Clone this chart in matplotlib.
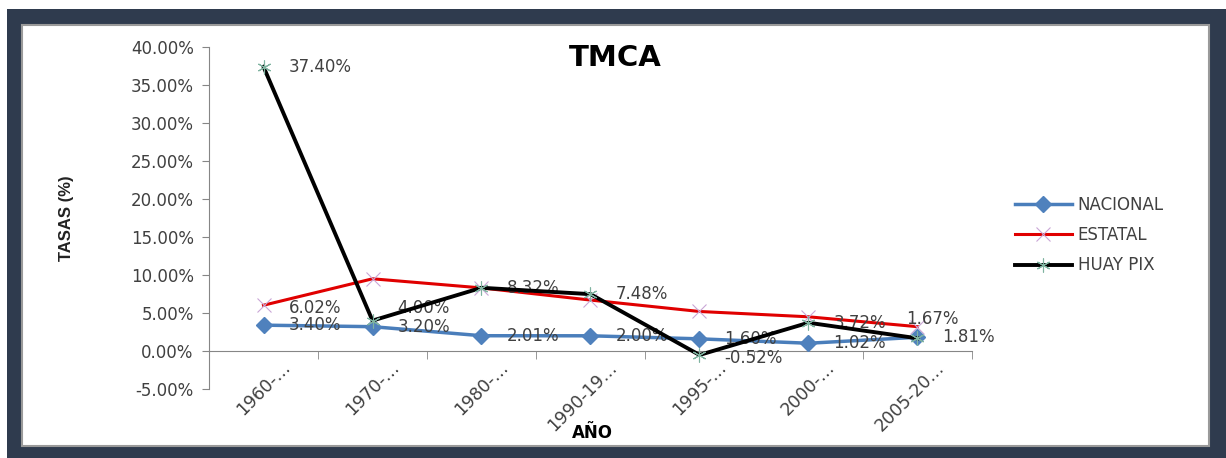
import matplotlib
matplotlib.use("Agg")
import matplotlib.pyplot as plt
from matplotlib.patches import Rectangle
from matplotlib.transforms import ScaledTranslation
from matplotlib.ticker import FuncFormatter, FixedLocator

plt.rcParams["font.family"] = ["DejaVu Sans"]

# datos de la gráfica
periodos = ["1960-…", "1970-…", "1980-…", "1990-19…", "1995-…", "2000-…", "2005-20…"]
nacional = [3.40, 3.20, 2.01, 2.00, 1.60, 1.02, 1.81]
estatal = [6.02, 9.50, 8.30, 6.70, 5.20, 4.50, 3.20]
huay_pix = [37.40, 4.00, 8.32, 7.48, -0.52, 3.72, 1.67]
y_ticks = [-5, 0, 5, 10, 15, 20, 25, 30, 35, 40]

W, H = 1226, 458
fig = plt.figure(figsize=(W / 100, H / 100), dpi=100)
fig.patch.set_facecolor("white")

# marco oscuro y fondo blanco interior
fig.patches.append(Rectangle((7 / W, 0), (W - 7) / W, (H - 9) / H, transform=fig.transFigure,
                             facecolor="#2f3b4e", edgecolor="none", zorder=-3))
fig.patches.append(Rectangle((22 / W, 12 / H), 1187 / W, 421 / H, transform=fig.transFigure,
                             facecolor="white", edgecolor="#9a9a9a", linewidth=1.5, zorder=-2))

ax = fig.add_axes([209 / W, 1 - 389 / H, 763 / W, 342 / H])
ax.set_facecolor("none")

x = list(range(len(periodos)))
ax.plot(x, nacional, color="#4a7ebb", linewidth=2.5, marker="D", markersize=8,
        markerfacecolor="#4f81bd", markeredgecolor="#4f81bd", label="NACIONAL", zorder=3)
ax.plot(x, estatal, color="#e00000", linewidth=2.2, marker="x", markersize=10,
        markeredgecolor="#c9a6d6", markeredgewidth=0.8, label="ESTATAL", zorder=2)
ax.plot(x, huay_pix, color="black", linewidth=2.8, marker=(6, 2, 0), markersize=10,
        markeredgecolor="#7fb3a0", markeredgewidth=0.8, label="HUAY PIX", zorder=4)

lbl_kw = dict(textcoords="offset points", ha="left", va="center", fontsize=12, color="#404040")
for i, v in enumerate(nacional):
    ax.annotate(f"{v:.2f}%", (i, v), xytext=(18, 0), **lbl_kw)
ax.annotate(f"{estatal[0]:.2f}%", (0, estatal[0]), xytext=(18, -2), **lbl_kw)
for i, v in enumerate(huay_pix):
    off = (18, 0)
    if i == len(huay_pix) - 1:
        off = (-8, 14)
    elif i == 4:
        off = (18, -2)
    elif i == 1:
        off = (18, 9)
    ax.annotate(f"{v:.2f}%", (i, v), xytext=off, **lbl_kw)

ax.set_xlim(-0.5, len(periodos) - 0.5)
ax.set_ylim(-5, 40)
ax.set_yticks(y_ticks)
ax.yaxis.set_major_formatter(FuncFormatter(lambda v, p: f"{v:.2f}%"))
ax.tick_params(axis="y", direction="out", length=5, color="#868686", labelsize=12,
               labelcolor="#404040", pad=6)

ax.set_xticks(x)
ax.set_xticklabels(periodos)
ax.xaxis.set_minor_locator(FixedLocator([i + 0.5 for i in x]))
ax.tick_params(axis="x", which="major", length=0, labelsize=12.5, labelcolor="#404040",
               pad=10, labelrotation=45)
ax.tick_params(axis="x", which="minor", direction="out", length=6, color="#868686")

for s in ["top", "right"]:
    ax.spines[s].set_visible(False)
ax.spines["bottom"].set_position(("data", 0))
ax.spines["bottom"].set_color("#868686")
ax.spines["left"].set_color("#868686")

fig.text(615 / W, 1 - 58 / H, "TMCA", fontsize=21, fontweight="bold", ha="center", va="center")
fig.text(67 / W, 1 - 218 / H, "TASAS (%)", fontsize=12, fontweight="bold", rotation=90,
         ha="center", va="center", family="Liberation Sans", color="#222222")
fig.text(592 / W, 1 - 433 / H, "AÑO", fontsize=12, fontweight="bold", ha="center", va="center")

fig.legend(loc="center left", bbox_to_anchor=(1000 / W, 1 - 235 / H), frameon=False,
           fontsize=12, handlelength=3.4, handletextpad=0.35, labelspacing=0.75,
           labelcolor="#404040")

# desplazar etiquetas rotadas como en la original
fig.canvas.draw()
shift = ScaledTranslation(0.24, 0, fig.dpi_scale_trans)
for lab in ax.get_xticklabels():
    lab.set_rotation(45)
    lab.set_ha("right")
    lab.set_va("center")
    lab.set_rotation_mode("anchor")
    lab.set_transform(lab.get_transform() + shift)

fig.savefig("out.png", dpi=100)
